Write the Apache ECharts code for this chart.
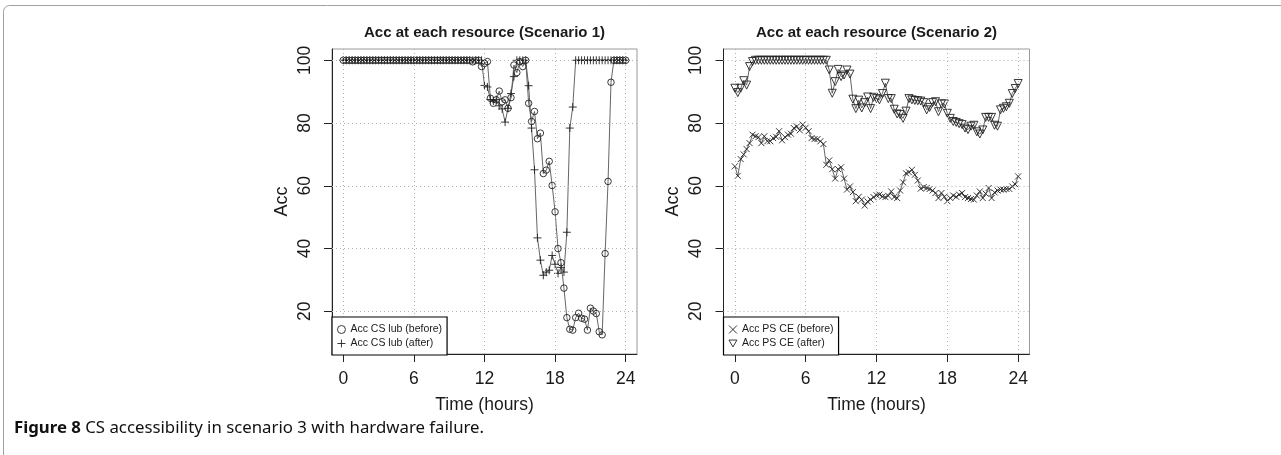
<!DOCTYPE html>
<html><head><meta charset="utf-8">
<script src="https://cdn.jsdelivr.net/npm/echarts@6/dist/echarts.min.js"></script>
<style>html,body{margin:0;padding:0;background:#fff}#c{width:1281px;height:455px}</style>
</head><body><div id="c"></div>
<script>
// time axis: one reading every 15 minutes over 24 h
const hours = Array.from({length: 97}, (_, i) => i * 0.25);
const xTicks = [0, 6, 12, 18, 24];
const yTicks = [20, 40, 60, 80, 100];

const s1Before = [
  100,100,100,100,100,100,100,100,100,100,100,100,100,100,100,100,100,100,100,100,100,100,
  100,100,100,100,100,100,100,100,100,100,100,100,100,100,100,100,100,100,100,100,100,100,
  99.5,100,100,98,99,99.6,87.9,86.3,87.4,90.2,86.8,87.4,84.7,88.1,98.5,96.1,99.6,98,100,
  86.3,80.5,83.7,75,76.8,63.9,65,67.8,60.1,51.7,40,35.5,27.4,18,14.3,14,18,19.4,17.8,17.5,
  14,21,20.1,19.3,13.5,12.5,38.4,61.4,93,100,100,100,100,100
];
const s1After = [
  100,100,100,100,100,100,100,100,100,100,100,100,100,100,100,100,100,100,100,100,100,100,100,100,
  100,100,100,100,100,100,100,100,100,100,100,100,100,100,100,100,100,100,100,100,100,100,100,100,
  92,91.5,87.5,87,87.5,85.5,84.5,80.3,84.7,89.4,94.8,100,100,100,100,91.9,78.4,65.1,43.4,36.3,
  31.5,32.5,33.1,37.8,35,32.1,34,32.5,45.2,78.4,85.1,
  100,100,100,100,100,100,100,100,100,100,100,100,100,100,100,100,100,100
];
const s2Before = [
  66.2,63.2,68.5,70,71.7,73.6,76.3,75.8,75.5,73.6,75.8,74.2,74.2,75.2,75.6,77.4,74.5,75.5,76.3,
  76.6,78.4,78.9,77.7,79.5,78.5,77.4,75.2,74.9,74.9,74.2,73.3,66.7,68.1,65.3,62.3,65.3,65.9,62.3,
  58.8,59.8,58,55.1,56.5,55.6,53.7,55,55.6,56.4,57,57.2,56.6,56.4,56.8,58.2,56.4,56.1,58.5,61.1,
  64,64.3,65.1,63.5,61.7,59.1,59.6,59.3,59,58.5,57.7,56.1,57.7,56.5,55.1,56.1,56.9,56.5,57.2,57.7,
  56.4,56.1,55.8,55.6,56.9,58.2,56.1,57.5,59.3,56.1,57.9,58.5,58.8,58.8,59,59,59.8,60.5,63
];
const s2After = [
  91.1,89.7,91.1,93.5,92.1,98,99.6,
  100,100,100,100,100,100,100,100,100,100,100,100,100,100,100,100,100,100,100,100,100,100,100,100,100,
  96.9,89.5,93.2,97.1,94.8,95.3,96.9,95.6,87.6,84.6,87.3,84.8,86.5,88.3,84.6,88.2,87.8,87.4,89.4,
  92.7,87.8,87.8,84.4,82.9,82.7,81.5,83.8,87.8,87.4,87.2,87.1,87,86.5,84.2,85,86.5,86.8,83.6,86.1,
  86.1,83.1,81.5,80.5,80.2,79.8,79.5,78.4,77.9,79,79.3,77.2,76.5,77.8,81.8,81.8,81.8,79.3,79,84.2,
  84.7,85.2,86.3,89.4,91,92.6
];
const names = ['Acc CS lub (before)', 'Acc CS lub (after)', 'Acc PS CE (before)', 'Acc PS CE (after)'];
const titles = ['Acc at each resource (Scenario 1)', 'Acc at each resource (Scenario 2)'];

const FONT = '"Liberation Sans", Arial, Helvetica, sans-serif';
const CAPFONT = '"Noto Sans", "Open Sans", sans-serif';
const INK = '#1a1a1a';
const PLUS = 'path://M5,0L5,10M0,5L10,5';
const CROSS = 'path://M0,0L10,10M10,0L0,10';
const TRI = 'path://M0,0L10,0L5,8.66Z';
const pair = arr => hours.map((h, i) => [h, arr[i]]);

const grids = [
  {left: 332, top: 49, width: 305, height: 305},
  {left: 723.5, top: 49, width: 306, height: 305}
];

function xAxis(gi) {
  return {
    type: 'value', gridIndex: gi, min: -0.96, max: 24.96,
    axisLine: {show: true, onZero: false, lineStyle: {color: '#222', width: 1}},
    axisTick: {show: true, customValues: xTicks, length: 8, lineStyle: {color: '#222', width: 1}},
    axisLabel: {customValues: xTicks, fontSize: 17.5, color: INK, margin: 16, fontFamily: FONT},
    splitLine: {show: false},
    name: 'Time (hours)', nameLocation: 'middle', nameGap: 42,
    nameTextStyle: {fontSize: 17.5, color: INK, fontFamily: FONT}
  };
}
function yAxis(gi) {
  return {
    type: 'value', gridIndex: gi, min: 6.4, max: 103.6,
    axisLine: {show: true, onZero: false, lineStyle: {color: '#222', width: 1}},
    axisTick: {show: true, customValues: yTicks, length: 8, lineStyle: {color: '#222', width: 1}},
    axisLabel: {customValues: yTicks, fontSize: 17.5, color: INK, margin: 18, rotate: 90, fontFamily: FONT},
    splitLine: {show: false},
    name: 'Acc', nameLocation: 'middle', nameGap: 41,
    nameTextStyle: {fontSize: 18, color: INK, fontFamily: FONT}
  };
}
function guide(gi) {
  return {
    type: 'line', xAxisIndex: gi, yAxisIndex: gi, data: [[0, 100]], symbol: 'none',
    lineStyle: {width: 0, opacity: 0}, silent: true, z: 1,
    markLine: {
      silent: true, symbol: ['none', 'none'], label: {show: false}, animation: false,
      lineStyle: {type: [1, 3], color: '#b0b0b0', width: 1},
      emphasis: {disabled: true},
      data: [...xTicks.map(v => ({xAxis: v})), ...yTicks.map(v => ({yAxis: v}))]
    }
  };
}
const markStyle = {color: 'rgba(0,0,0,0)', borderColor: '#222', borderWidth: 0.9};
function series(gi, name, values, symbol, size) {
  return {
    name, type: 'line', xAxisIndex: gi, yAxisIndex: gi, data: pair(values),
    symbol, symbolSize: size, showAllSymbol: true, z: 3,
    itemStyle: markStyle, lineStyle: {color: '#555', width: 0.9},
    emphasis: {disabled: true}, animation: false
  };
}
function legend(gi, left, items) {
  return {
    left, top: 317, orient: 'vertical', selectedMode: false,
    padding: [7, 5, 6, 5], itemGap: 3, itemWidth: 8, itemHeight: 8,
    backgroundColor: '#fff', borderColor: '#000', borderWidth: 1.2, borderRadius: 0,
    textStyle: {fontSize: 10.5, color: INK, fontFamily: FONT},
    itemStyle: markStyle,
    data: items.map(([name, icon]) => ({name, icon, itemStyle: markStyle})),
    z: 10
  };
}

const option = {
  backgroundColor: '#fff',
  animation: false,
  grid: grids.map(g => Object.assign({show: true, borderColor: '#9a9a9a', borderWidth: 1, backgroundColor: 'transparent'}, g)),
  xAxis: [xAxis(0), xAxis(1)],
  yAxis: [yAxis(0), yAxis(1)],
  legend: [
    legend(0, 332, [[names[0], 'circle'], [names[1], PLUS]]),
    legend(1, 723.5, [[names[2], CROSS], [names[3], TRI]])
  ],
  series: [
    guide(0), guide(1),
    series(0, names[0], s1Before, 'circle', 6.5),
    series(0, names[1], s1After, PLUS, 8),
    series(1, names[2], s2Before, CROSS, 6),
    series(1, names[3], s2After, TRI, 8)
  ],
  graphic: [
    {type: 'rect', shape: {x: 3.5, y: 5.5, width: 1320, height: 520, r: 6}, style: {fill: 'none', stroke: '#a0a0a0', lineWidth: 1}, silent: true},
    {type: 'text', x: 484.5, y: 33, style: {text: titles[0], align: 'center', verticalAlign: 'middle', font: 'bold 15px ' + FONT, fill: INK}},
    {type: 'text', x: 876.5, y: 33, style: {text: titles[1], align: 'center', verticalAlign: 'middle', font: 'bold 15px ' + FONT, fill: INK}},
    {type: 'text', x: 14, y: 428, style: {
      text: '{b|Figure 8} CS accessibility in scenario 3 with hardware failure.',
      verticalAlign: 'middle', fill: '#111', font: '16.8px ' + CAPFONT,
      rich: {b: {fontWeight: 'bold', fontSize: 16.8, fontFamily: CAPFONT, fill: '#111'}}
    }}
  ]
};
const chart = echarts.init(document.getElementById('c'), null, {renderer: 'canvas'});
chart.setOption(option);
</script>
</body></html>
